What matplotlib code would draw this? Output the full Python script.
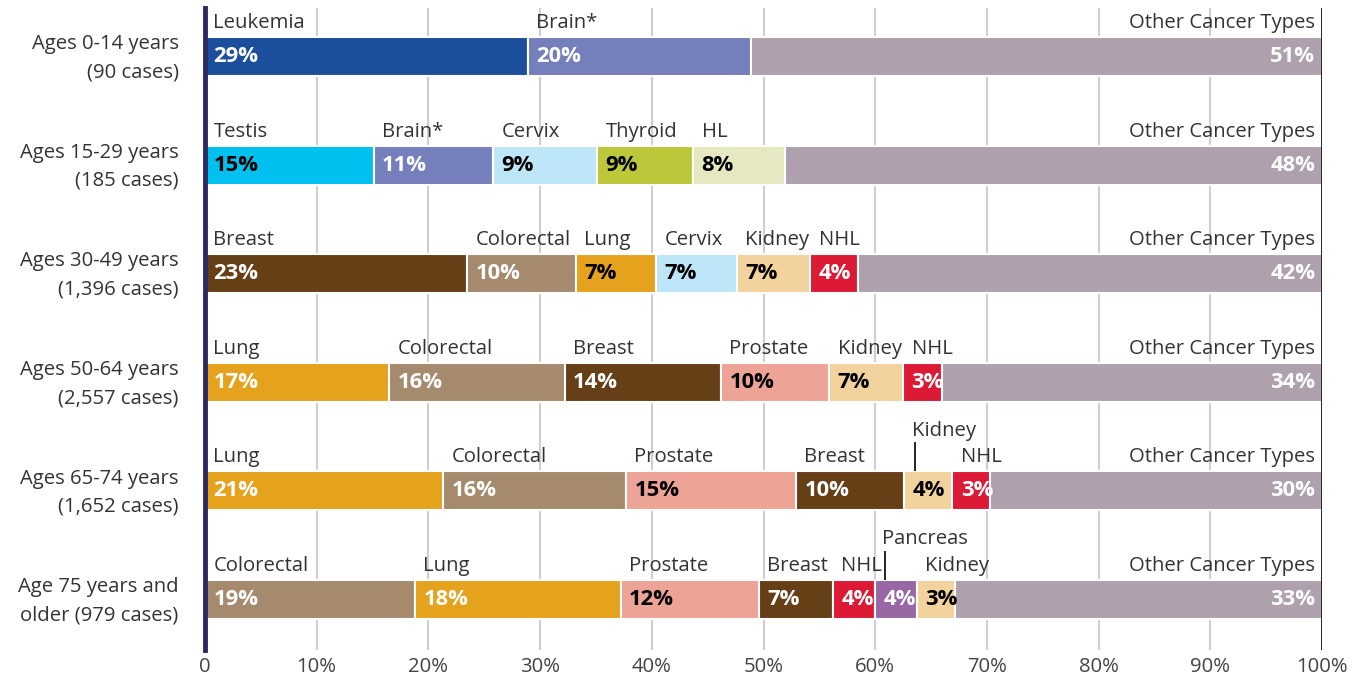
import matplotlib.pyplot as plt

plt.rcParams['font.family'] = ['Open Sans', 'DejaVu Sans']

# ── data (bar widths, labels as printed) ──────────────────────────────────
groups = ["Ages 0-14 years\n(90 cases)",
          "Ages 15-29 years\n(185 cases)",
          "Ages 30-49 years\n(1,396 cases)",
          "Ages 50-64 years\n(2,557 cases)",
          "Ages 65-74 years\n(1,652 cases)",
          "Age 75 years and\nolder (979 cases)"]

cancers_0_14  = ["Leukemia", "Brain*", "Other Cancer Types"]
cancers_15_29 = ["Testis", "Brain*", "Cervix", "Thyroid", "HL", "Other Cancer Types"]
cancers_30_49 = ["Breast", "Colorectal", "Lung", "Cervix", "Kidney", "NHL", "Other Cancer Types"]
cancers_50_64 = ["Lung", "Colorectal", "Breast", "Prostate", "Kidney", "NHL", "Other Cancer Types"]
cancers_65_74 = ["Lung", "Colorectal", "Prostate", "Breast", "Kidney", "NHL", "Other Cancer Types"]
cancers_75up  = ["Colorectal", "Lung", "Prostate", "Breast", "NHL", "Pancreas", "Kidney", "Other Cancer Types"]

share_0_14  = [28.9, 20.0, 51.1]
share_15_29 = [15.1, 10.7, 9.3, 8.6, 8.2, 48.1]
share_30_49 = [23.5, 9.7, 7.2, 7.2, 6.6, 4.3, 41.5]
share_50_64 = [16.5, 15.7, 14.0, 9.7, 6.6, 3.5, 34.0]
share_65_74 = [21.3, 16.4, 15.2, 9.7, 4.3, 3.4, 29.7]
share_75up  = [18.8, 18.4, 12.4, 6.6, 3.8, 3.7, 3.4, 32.9]

shown_0_14  = [29, 20, 51]
shown_15_29 = [15, 11, 9, 9, 8, 48]
shown_30_49 = [23, 10, 7, 7, 7, 4, 42]
shown_50_64 = [17, 16, 14, 10, 7, 3, 34]
shown_65_74 = [21, 16, 15, 10, 4, 3, 30]
shown_75up  = [19, 18, 12, 7, 4, 4, 3, 33]

xticks = [0, 10, 20, 30, 40, 50, 60, 70, 80, 90, 100]
xtick_labels = ["0", "10%", "20%", "30%", "40%", "50%", "60%", "70%", "80%", "90%", "100%"]

rows = [(cancers_0_14, share_0_14, shown_0_14),
        (cancers_15_29, share_15_29, shown_15_29),
        (cancers_30_49, share_30_49, shown_30_49),
        (cancers_50_64, share_50_64, shown_50_64),
        (cancers_65_74, share_65_74, shown_65_74),
        (cancers_75up, share_75up, shown_75up)]

# ── styling ───────────────────────────────────────────────────────────────
colors = {"Leukemia": "#1b4f9b", "Brain*": "#747fbb", "Testis": "#00c0ef",
          "Cervix": "#bde6f9", "Thyroid": "#bdc73a", "HL": "#e5e8c0",
          "Breast": "#663f17", "Colorectal": "#a68a6d", "Lung": "#e4a21d",
          "Kidney": "#f3d39d", "NHL": "#dc1a35", "Prostate": "#eda395",
          "Pancreas": "#9a67a5", "Other Cancer Types": "#afa0ae"}
dark_text = {"Testis", "Cervix", "Thyroid", "HL", "Kidney", "Prostate"}
dark_text_extra = {(2, "Lung")}
# labels lifted above the bar with a leader line: (row, name) -> leader x
lifted = {(4, "Kidney"): 63.6, (5, "Pancreas"): 60.9}
label_shift = {(4, "Kidney"): -0.3, (5, "Pancreas"): -0.3}

TXT = "#333333"
BAR_H = 0.36
FS = 14.6      # category / axis text
FS_PCT = 15.8  # bold percentages

fig = plt.figure(figsize=(13.65, 6.78), dpi=100)
ax = fig.add_axes([205 / 1365, 1 - 650 / 678, (1322 - 205) / 1365, 642 / 678])

for x in xticks[1:-1]:
    ax.axvline(x, color="#cfcfcf", lw=1.5, zorder=0)
ax.axvline(100, color="black", lw=1.2, zorder=3)

for i, (names, shares, shown) in enumerate(rows):
    left = 0
    for name, w, pct in zip(names, shares, shown):
        ax.barh(i, w, left=left, height=BAR_H, color=colors[name],
                edgecolor="white", linewidth=1.5, zorder=2)
        light = name in dark_text or (i, name) in dark_text_extra
        tc = "black" if light else "white"
        top = i - BAR_H / 2
        if name == "Other Cancer Types":
            ax.text(99.4, i, f"{pct}%", ha="right", va="center", color=tc,
                    fontsize=FS_PCT, fontweight="bold", zorder=4)
            ax.text(99.4, top - 0.083, name, ha="right", va="baseline",
                    color=TXT, fontsize=FS, zorder=4)
        else:
            ax.text(left + 0.75, i, f"{pct}%", ha="left", va="center", color=tc,
                    fontsize=FS_PCT, fontweight="bold", zorder=4)
            if (i, name) in lifted:
                lx = lifted[(i, name)]
                ax.plot([lx, lx], [top, top - 0.27], color="black", lw=1.2,
                        zorder=4, solid_capstyle="butt")
                ax.text(lx + label_shift[(i, name)], top - 0.33, name, ha="left",
                        va="baseline", color=TXT, fontsize=FS, zorder=4)
            else:
                ax.text(left + 0.75, top - 0.083, name, ha="left", va="baseline",
                        color=TXT, fontsize=FS, zorder=4)
        left += w

ax.set_xlim(0, 100)
ax.set_ylim(5.465, -0.447)
ax.set_xticks(xticks)
ax.set_xticklabels(xtick_labels, fontsize=FS, color="#444444")
ax.set_yticks([g - 0.045 for g in range(len(groups))])
ax.set_yticklabels(groups, fontsize=FS, color=TXT, linespacing=1.55)
ax.tick_params(axis="both", length=0)
ax.tick_params(axis="y", pad=19)
ax.tick_params(axis="x", pad=5)

for s in ["top", "right", "bottom"]:
    ax.spines[s].set_visible(False)
ax.spines["left"].set_color("#2d2a62")
ax.spines["left"].set_linewidth(3.5)
ax.spines["left"].set_zorder(5)

fig.savefig("out.png", dpi=100)
